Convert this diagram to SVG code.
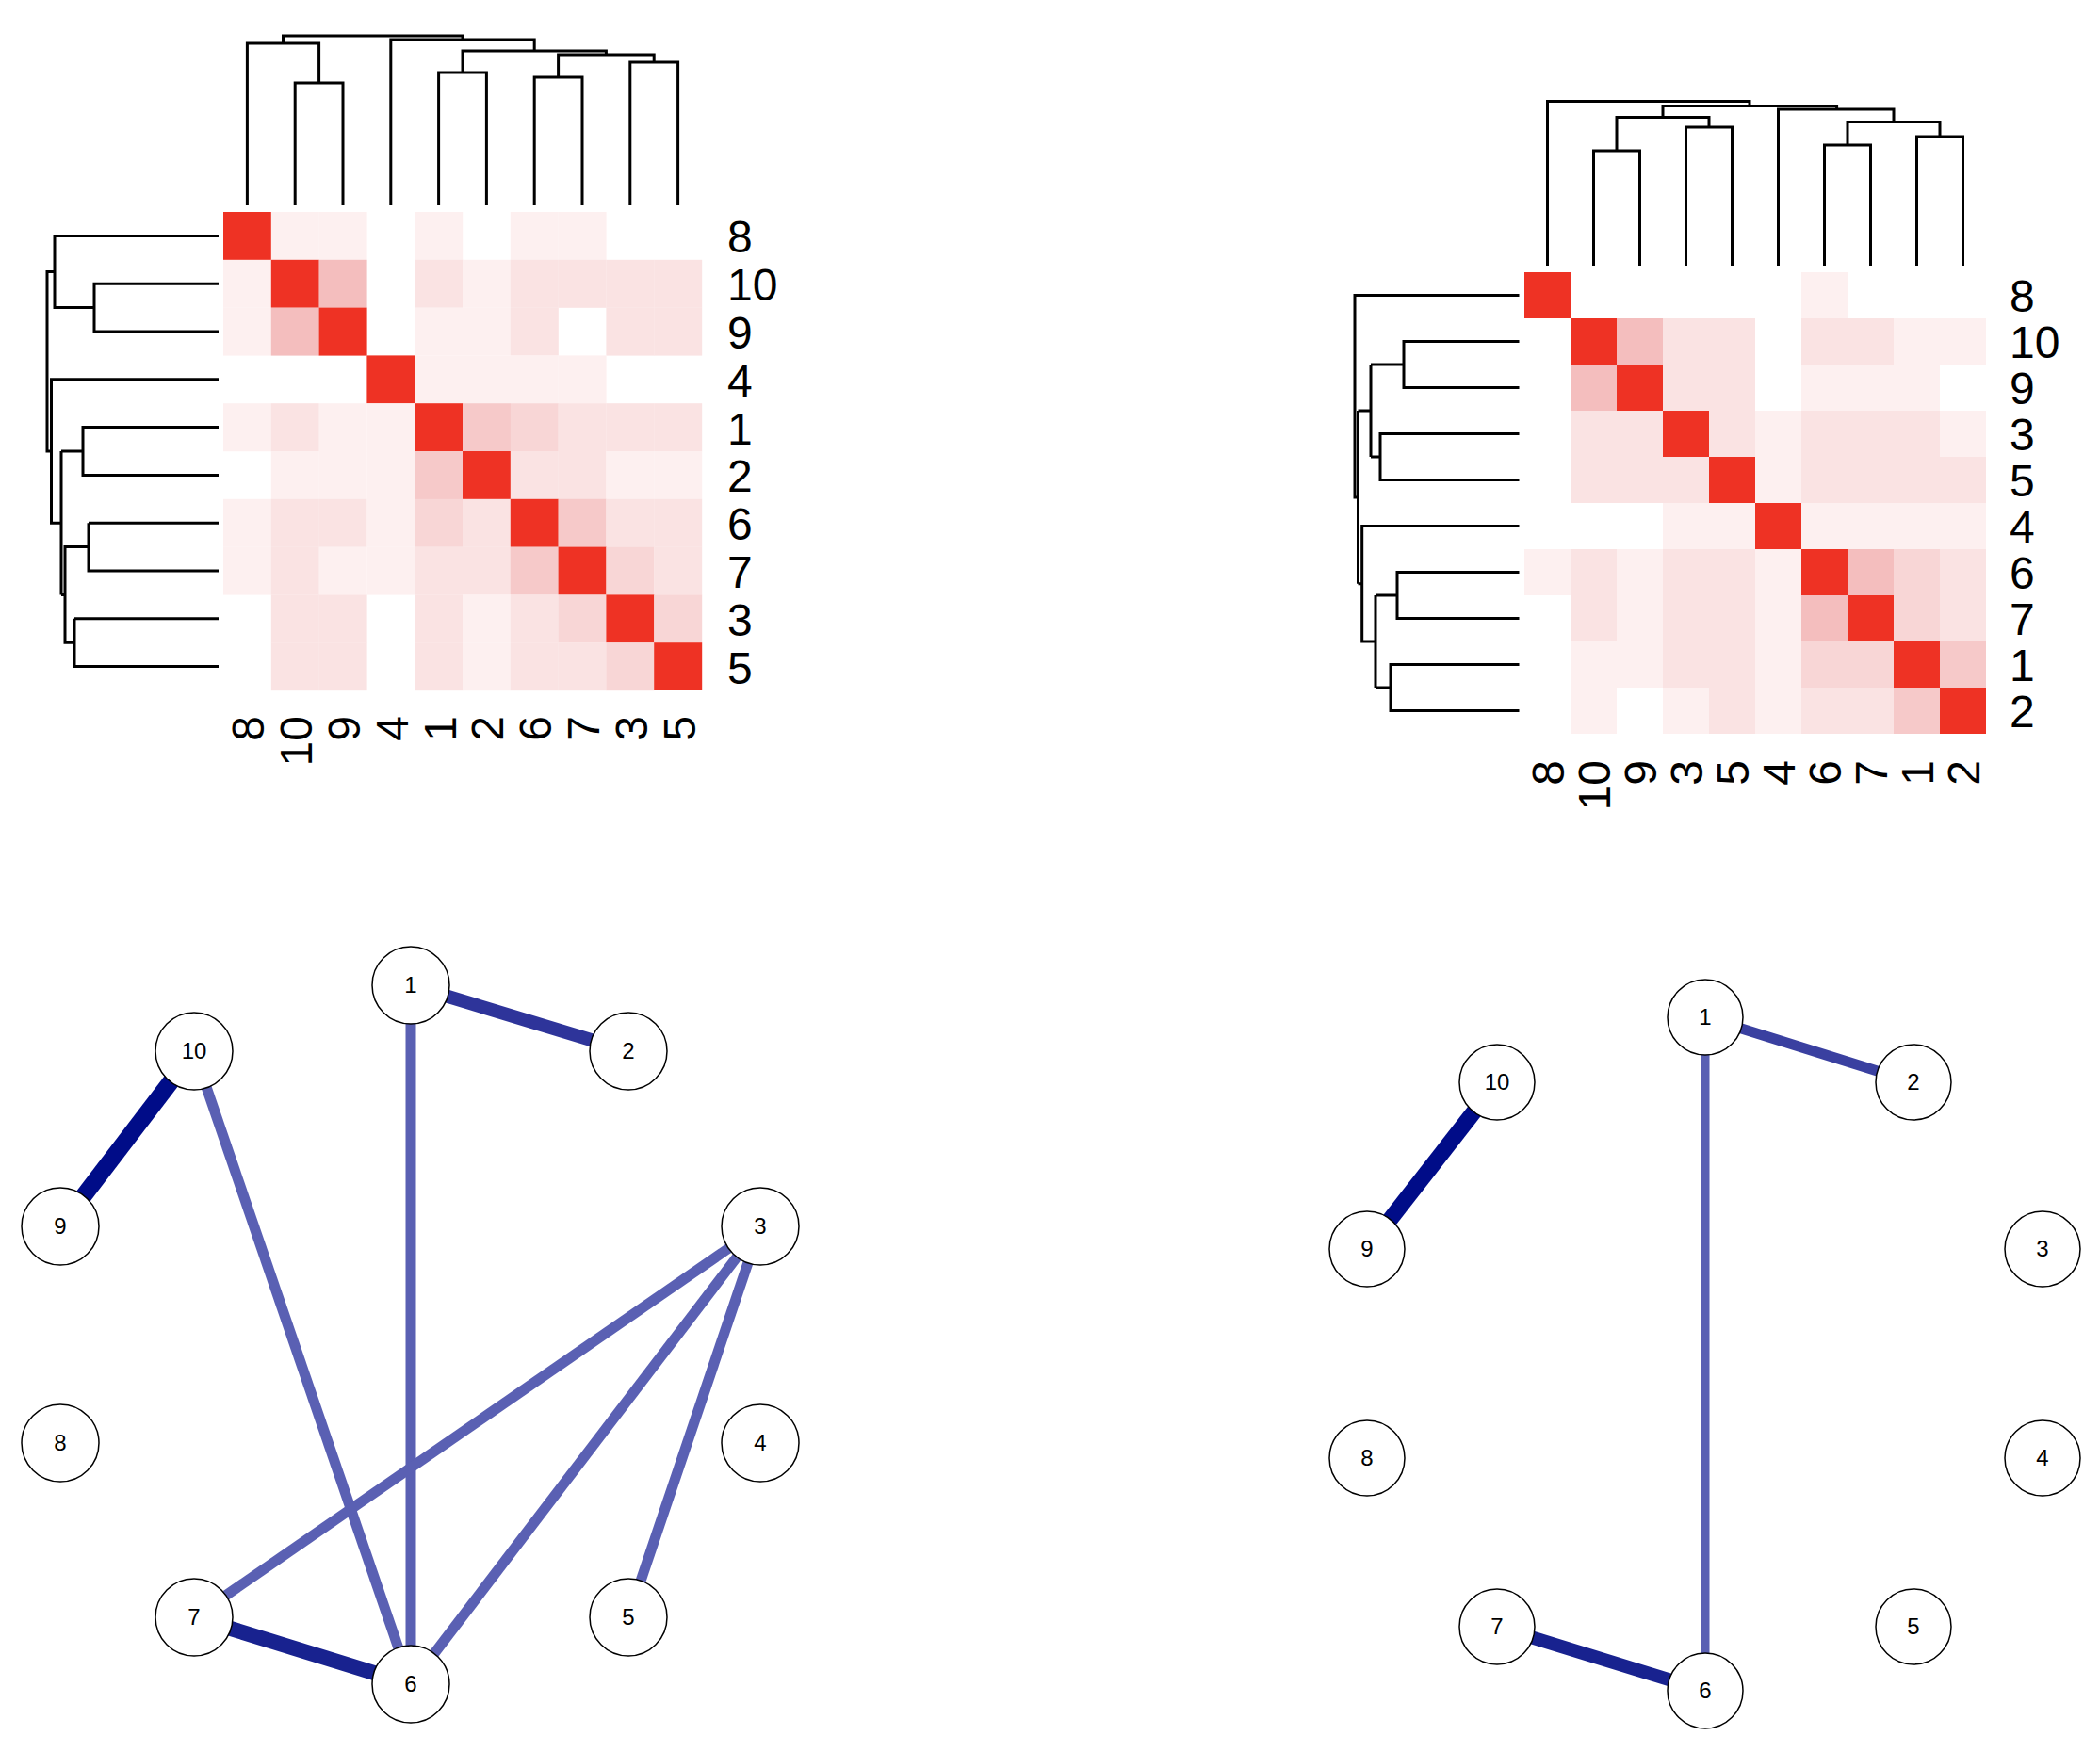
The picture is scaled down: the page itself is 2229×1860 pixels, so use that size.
<svg xmlns="http://www.w3.org/2000/svg" width="2229" height="1860" viewBox="0 0 2229 1860">
<style>
.R{fill:#ee3224}.S{fill:#f4bebe}.M{fill:#f6c9c9}.m{fill:#f8d6d6}.l{fill:#fae3e3}.v{fill:#fdf0f0}
.dg{fill:none;stroke:#000;stroke-width:3}
.lab{font-family:"Liberation Sans",Arial,sans-serif;font-size:48px;fill:#000}
.nd circle{fill:#fff;stroke:#000;stroke-width:1.5}
.nd text{font-family:"Liberation Sans",Arial,sans-serif;font-size:24px;text-anchor:middle;fill:#000}
.e1{stroke:#000c88;stroke-width:18}
.e2{stroke:#2e349a;stroke-width:14}
.e3{stroke:#5a60b3;stroke-width:11}
.e4{stroke:#18228f;stroke-width:16}
</style>
<rect width="2229" height="1860" fill="#fff"/>

<g id="heatmap-left">
<g id="cells-left">
<rect class="R" x="237" y="225" width="51" height="51"/><rect class="v" x="287.8" y="225" width="51" height="51"/><rect class="v" x="338.6" y="225" width="51" height="51"/><rect class="v" x="440.2" y="225" width="51" height="51"/><rect class="v" x="541.8" y="225" width="51" height="51"/><rect class="v" x="592.6" y="225" width="51" height="51"/>
<rect class="v" x="237" y="275.8" width="51" height="51"/><rect class="R" x="287.8" y="275.8" width="51" height="51"/><rect class="S" x="338.6" y="275.8" width="51" height="51"/><rect class="l" x="440.2" y="275.8" width="51" height="51"/><rect class="v" x="491" y="275.8" width="51" height="51"/><rect class="l" x="541.8" y="275.8" width="51" height="51"/><rect class="l" x="592.6" y="275.8" width="51" height="51"/><rect class="l" x="643.4" y="275.8" width="51" height="51"/><rect class="l" x="694.2" y="275.8" width="51" height="51"/>
<rect class="v" x="237" y="326.6" width="51" height="51"/><rect class="S" x="287.8" y="326.6" width="51" height="51"/><rect class="R" x="338.6" y="326.6" width="51" height="51"/><rect class="v" x="440.2" y="326.6" width="51" height="51"/><rect class="v" x="491" y="326.6" width="51" height="51"/><rect class="l" x="541.8" y="326.6" width="51" height="51"/><rect class="l" x="643.4" y="326.6" width="51" height="51"/><rect class="l" x="694.2" y="326.6" width="51" height="51"/>
<rect class="R" x="389.4" y="377.4" width="51" height="51"/><rect class="v" x="440.2" y="377.4" width="51" height="51"/><rect class="v" x="491" y="377.4" width="51" height="51"/><rect class="v" x="541.8" y="377.4" width="51" height="51"/><rect class="v" x="592.6" y="377.4" width="51" height="51"/>
<rect class="v" x="237" y="428.2" width="51" height="51"/><rect class="l" x="287.8" y="428.2" width="51" height="51"/><rect class="v" x="338.6" y="428.2" width="51" height="51"/><rect class="v" x="389.4" y="428.2" width="51" height="51"/><rect class="R" x="440.2" y="428.2" width="51" height="51"/><rect class="M" x="491" y="428.2" width="51" height="51"/><rect class="m" x="541.8" y="428.2" width="51" height="51"/><rect class="l" x="592.6" y="428.2" width="51" height="51"/><rect class="l" x="643.4" y="428.2" width="51" height="51"/><rect class="l" x="694.2" y="428.2" width="51" height="51"/>
<rect class="v" x="287.8" y="479" width="51" height="51"/><rect class="v" x="338.6" y="479" width="51" height="51"/><rect class="v" x="389.4" y="479" width="51" height="51"/><rect class="M" x="440.2" y="479" width="51" height="51"/><rect class="R" x="491" y="479" width="51" height="51"/><rect class="l" x="541.8" y="479" width="51" height="51"/><rect class="l" x="592.6" y="479" width="51" height="51"/><rect class="v" x="643.4" y="479" width="51" height="51"/><rect class="v" x="694.2" y="479" width="51" height="51"/>
<rect class="v" x="237" y="529.8" width="51" height="51"/><rect class="l" x="287.8" y="529.8" width="51" height="51"/><rect class="l" x="338.6" y="529.8" width="51" height="51"/><rect class="v" x="389.4" y="529.8" width="51" height="51"/><rect class="m" x="440.2" y="529.8" width="51" height="51"/><rect class="l" x="491" y="529.8" width="51" height="51"/><rect class="R" x="541.8" y="529.8" width="51" height="51"/><rect class="M" x="592.6" y="529.8" width="51" height="51"/><rect class="l" x="643.4" y="529.8" width="51" height="51"/><rect class="l" x="694.2" y="529.8" width="51" height="51"/>
<rect class="v" x="237" y="580.6" width="51" height="51"/><rect class="l" x="287.8" y="580.6" width="51" height="51"/><rect class="v" x="338.6" y="580.6" width="51" height="51"/><rect class="v" x="389.4" y="580.6" width="51" height="51"/><rect class="l" x="440.2" y="580.6" width="51" height="51"/><rect class="l" x="491" y="580.6" width="51" height="51"/><rect class="M" x="541.8" y="580.6" width="51" height="51"/><rect class="R" x="592.6" y="580.6" width="51" height="51"/><rect class="m" x="643.4" y="580.6" width="51" height="51"/><rect class="l" x="694.2" y="580.6" width="51" height="51"/>
<rect class="l" x="287.8" y="631.4" width="51" height="51"/><rect class="l" x="338.6" y="631.4" width="51" height="51"/><rect class="l" x="440.2" y="631.4" width="51" height="51"/><rect class="v" x="491" y="631.4" width="51" height="51"/><rect class="l" x="541.8" y="631.4" width="51" height="51"/><rect class="m" x="592.6" y="631.4" width="51" height="51"/><rect class="R" x="643.4" y="631.4" width="51" height="51"/><rect class="m" x="694.2" y="631.4" width="51" height="51"/>
<rect class="l" x="287.8" y="682.2" width="51" height="51"/><rect class="l" x="338.6" y="682.2" width="51" height="51"/><rect class="l" x="440.2" y="682.2" width="51" height="51"/><rect class="v" x="491" y="682.2" width="51" height="51"/><rect class="l" x="541.8" y="682.2" width="51" height="51"/><rect class="l" x="592.6" y="682.2" width="51" height="51"/><rect class="m" x="643.4" y="682.2" width="51" height="51"/><rect class="R" x="694.2" y="682.2" width="51" height="50.8"/>
</g>
<g id="dendro-top-left" class="dg">
<path d="M262.4,218V46H338.6V88M313.2,218V88H364V218"/>
<path d="M300.5,46V38H491V42M414.8,218V42H567.2V54M491,77V54H643.4V58"/>
<path d="M465.6,218V77H516.4V218M592.6,82V58H694.2V66M567.2,218V82H618V218M668.8,218V66H719.6V218"/>
</g>
<g id="dendro-left-left" class="dg">
<path d="M232,250.4H58V326.6H100M232,301.2H100V352H232"/>
<path d="M58,288.5H50V479H54.5M232,402.8H54.5V555.2H65M65,479V631.4"/>
<path d="M232,453.6H88V504.4H232M88,479H65M65,631.4H69V580.6H94M94,555.2H232M94,555.2V606H232M69,631.4V682.2H79M79,656.8H232M79,656.8V707.6H232"/>
</g>
<g id="labels-left" class="lab">
<text x="772" y="268">8</text><text x="772" y="319">10</text><text x="772" y="370">9</text><text x="772" y="421">4</text><text x="772" y="472">1</text><text x="772" y="522">2</text><text x="772" y="573">6</text><text x="772" y="624">7</text><text x="772" y="675">3</text><text x="772" y="726">5</text>
<g text-anchor="end">
<text transform="translate(280,760) rotate(-90)">8</text><text transform="translate(331,760) rotate(-90)">10</text><text transform="translate(382,760) rotate(-90)">9</text><text transform="translate(433,760) rotate(-90)">4</text><text transform="translate(484,760) rotate(-90)">1</text><text transform="translate(534,760) rotate(-90)">2</text><text transform="translate(585,760) rotate(-90)">6</text><text transform="translate(636,760) rotate(-90)">7</text><text transform="translate(687,760) rotate(-90)">3</text><text transform="translate(738,760) rotate(-90)">5</text>
</g>
</g>
</g>

<g id="heatmap-right">
<g id="cells-right">
<rect class="R" x="1618" y="289" width="49" height="49"/><rect class="v" x="1912" y="289" width="49" height="49"/>
<rect class="R" x="1667" y="338" width="49" height="49"/><rect class="S" x="1716" y="338" width="49" height="49"/><rect class="l" x="1765" y="338" width="49" height="49"/><rect class="l" x="1814" y="338" width="49" height="49"/><rect class="l" x="1912" y="338" width="49" height="49"/><rect class="l" x="1961" y="338" width="49" height="49"/><rect class="v" x="2010" y="338" width="49" height="49"/><rect class="v" x="2059" y="338" width="49" height="49"/>
<rect class="S" x="1667" y="387" width="49" height="49"/><rect class="R" x="1716" y="387" width="49" height="49"/><rect class="l" x="1765" y="387" width="49" height="49"/><rect class="l" x="1814" y="387" width="49" height="49"/><rect class="v" x="1912" y="387" width="49" height="49"/><rect class="v" x="1961" y="387" width="49" height="49"/><rect class="v" x="2010" y="387" width="49" height="49"/>
<rect class="l" x="1667" y="436" width="49" height="49"/><rect class="l" x="1716" y="436" width="49" height="49"/><rect class="R" x="1765" y="436" width="49" height="49"/><rect class="l" x="1814" y="436" width="49" height="49"/><rect class="v" x="1863" y="436" width="49" height="49"/><rect class="l" x="1912" y="436" width="49" height="49"/><rect class="l" x="1961" y="436" width="49" height="49"/><rect class="l" x="2010" y="436" width="49" height="49"/><rect class="v" x="2059" y="436" width="49" height="49"/>
<rect class="l" x="1667" y="485" width="49" height="49"/><rect class="l" x="1716" y="485" width="49" height="49"/><rect class="l" x="1765" y="485" width="49" height="49"/><rect class="R" x="1814" y="485" width="49" height="49"/><rect class="v" x="1863" y="485" width="49" height="49"/><rect class="l" x="1912" y="485" width="49" height="49"/><rect class="l" x="1961" y="485" width="49" height="49"/><rect class="l" x="2010" y="485" width="49" height="49"/><rect class="l" x="2059" y="485" width="49" height="49"/>
<rect class="v" x="1765" y="534" width="49" height="49"/><rect class="v" x="1814" y="534" width="49" height="49"/><rect class="R" x="1863" y="534" width="49" height="49"/><rect class="v" x="1912" y="534" width="49" height="49"/><rect class="v" x="1961" y="534" width="49" height="49"/><rect class="v" x="2010" y="534" width="49" height="49"/><rect class="v" x="2059" y="534" width="49" height="49"/>
<rect class="v" x="1618" y="583" width="49" height="49"/><rect class="l" x="1667" y="583" width="49" height="49"/><rect class="v" x="1716" y="583" width="49" height="49"/><rect class="l" x="1765" y="583" width="49" height="49"/><rect class="l" x="1814" y="583" width="49" height="49"/><rect class="v" x="1863" y="583" width="49" height="49"/><rect class="R" x="1912" y="583" width="49" height="49"/><rect class="S" x="1961" y="583" width="49" height="49"/><rect class="m" x="2010" y="583" width="49" height="49"/><rect class="l" x="2059" y="583" width="49" height="49"/>
<rect class="l" x="1667" y="632" width="49" height="49"/><rect class="v" x="1716" y="632" width="49" height="49"/><rect class="l" x="1765" y="632" width="49" height="49"/><rect class="l" x="1814" y="632" width="49" height="49"/><rect class="v" x="1863" y="632" width="49" height="49"/><rect class="S" x="1912" y="632" width="49" height="49"/><rect class="R" x="1961" y="632" width="49" height="49"/><rect class="m" x="2010" y="632" width="49" height="49"/><rect class="l" x="2059" y="632" width="49" height="49"/>
<rect class="v" x="1667" y="681" width="49" height="49"/><rect class="v" x="1716" y="681" width="49" height="49"/><rect class="l" x="1765" y="681" width="49" height="49"/><rect class="l" x="1814" y="681" width="49" height="49"/><rect class="v" x="1863" y="681" width="49" height="49"/><rect class="m" x="1912" y="681" width="49" height="49"/><rect class="m" x="1961" y="681" width="49" height="49"/><rect class="R" x="2010" y="681" width="49" height="49"/><rect class="M" x="2059" y="681" width="49" height="49"/>
<rect class="v" x="1667" y="730" width="49" height="49"/><rect class="v" x="1765" y="730" width="49" height="49"/><rect class="l" x="1814" y="730" width="49" height="49"/><rect class="v" x="1863" y="730" width="49" height="49"/><rect class="l" x="1912" y="730" width="49" height="49"/><rect class="l" x="1961" y="730" width="49" height="49"/><rect class="M" x="2010" y="730" width="49" height="49"/><rect class="R" x="2059" y="730" width="49" height="49"/>
</g>
<g id="dendro-top-right" class="dg">
<path d="M1642.5,282V107.5H1857V112.6M1765,124.5V112.6H1949.6V116"/>
<path d="M1691.5,282V160H1740.5V282M1716,160V124.5H1814V135M1789.5,282V135H1838.5V282"/>
<path d="M1887.5,282V116H2010V129.6M1961,154V129.6H2059V145M1936.5,282V154H1985.5V282M2034.5,282V145H2083.5V282"/>
</g>
<g id="dendro-left-right" class="dg">
<path d="M1612.5,313.5H1438V527.9H1441.5M1441.5,436V619.75M1441.5,436H1455M1455,387V485"/>
<path d="M1612.5,362.5H1490V411.5H1612.5M1490,387H1455M1612.5,460.5H1465V509.5H1612.5M1465,485H1455"/>
<path d="M1612.5,558.5H1445.7V681H1460M1441.5,619.75H1445.7M1460,632V730M1460,632H1483M1612.5,607.5H1483V656.5H1612.5M1460,730H1476M1612.5,705.5H1476V754.5H1612.5"/>
</g>
<g id="labels-right" class="lab">
<text x="2133" y="331">8</text><text x="2133" y="380">10</text><text x="2133" y="429">9</text><text x="2133" y="478">3</text><text x="2133" y="527">5</text><text x="2133" y="576">4</text><text x="2133" y="625">6</text><text x="2133" y="674">7</text><text x="2133" y="723">1</text><text x="2133" y="772">2</text>
<g text-anchor="end">
<text transform="translate(1660,807) rotate(-90)">8</text><text transform="translate(1709,807) rotate(-90)">10</text><text transform="translate(1758,807) rotate(-90)">9</text><text transform="translate(1807,807) rotate(-90)">3</text><text transform="translate(1856,807) rotate(-90)">5</text><text transform="translate(1905,807) rotate(-90)">4</text><text transform="translate(1954,807) rotate(-90)">6</text><text transform="translate(2003,807) rotate(-90)">7</text><text transform="translate(2052,807) rotate(-90)">1</text><text transform="translate(2101,807) rotate(-90)">2</text>
</g>
</g>
</g>

<g id="connectors">
<line class="e1" x1="206" y1="1116" x2="64" y2="1302"/>
<line class="e2" x1="436" y1="1046" x2="667" y2="1116"/>
<line class="e3" x1="206" y1="1116" x2="436" y2="1788"/>
<line class="e3" x1="436" y1="1046" x2="436" y2="1788"/>
<line class="e3" x1="807" y1="1302" x2="206" y2="1717"/>
<line class="e3" x1="807" y1="1302" x2="436" y2="1788"/>
<line class="e3" x1="807" y1="1302" x2="667" y2="1717"/>
<line class="e4" x1="206" y1="1717" x2="436" y2="1788"/>
<line class="e1" x1="1589" y1="1149" x2="1451" y2="1326" style="stroke-width:17"/>
<line class="e2" x1="1810" y1="1080" x2="2031" y2="1149" style="stroke:#3a40a0;stroke-width:11"/>
<line class="e3" x1="1810" y1="1080" x2="1810" y2="1795" style="stroke-width:9"/>
<line class="e4" x1="1589" y1="1727" x2="1810" y2="1795" style="stroke-width:14"/>
</g>

<g id="network-left" class="nd">
<g id="L1"><circle cx="436" cy="1046" r="41"/><text x="436" y="1054">1</text></g>
<g id="L2"><circle cx="667" cy="1116" r="41"/><text x="667" y="1124">2</text></g>
<g id="L10"><circle cx="206" cy="1116" r="41"/><text x="206" y="1124">10</text></g>
<g id="L9"><circle cx="64" cy="1302" r="41"/><text x="64" y="1310">9</text></g>
<g id="L3"><circle cx="807" cy="1302" r="41"/><text x="807" y="1310">3</text></g>
<g id="L8"><circle cx="64" cy="1532" r="41"/><text x="64" y="1540">8</text></g>
<g id="L4"><circle cx="807" cy="1532" r="41"/><text x="807" y="1540">4</text></g>
<g id="L7"><circle cx="206" cy="1717" r="41"/><text x="206" y="1725">7</text></g>
<g id="L5"><circle cx="667" cy="1717" r="41"/><text x="667" y="1725">5</text></g>
<g id="L6"><circle cx="436" cy="1788" r="41"/><text x="436" y="1796">6</text></g>
</g>
<g id="network-right" class="nd">
<g id="R1"><circle cx="1810" cy="1080" r="40"/><text x="1810" y="1088">1</text></g>
<g id="R2"><circle cx="2031" cy="1149" r="40"/><text x="2031" y="1157">2</text></g>
<g id="R10"><circle cx="1589" cy="1149" r="40"/><text x="1589" y="1157">10</text></g>
<g id="R9"><circle cx="1451" cy="1326" r="40"/><text x="1451" y="1334">9</text></g>
<g id="R3"><circle cx="2168" cy="1326" r="40"/><text x="2168" y="1334">3</text></g>
<g id="R8"><circle cx="1451" cy="1548" r="40"/><text x="1451" y="1556">8</text></g>
<g id="R4"><circle cx="2168" cy="1548" r="40"/><text x="2168" y="1556">4</text></g>
<g id="R7"><circle cx="1589" cy="1727" r="40"/><text x="1589" y="1735">7</text></g>
<g id="R5"><circle cx="2031" cy="1727" r="40"/><text x="2031" y="1735">5</text></g>
<g id="R6"><circle cx="1810" cy="1795" r="40"/><text x="1810" y="1803">6</text></g>
</g>
</svg>
